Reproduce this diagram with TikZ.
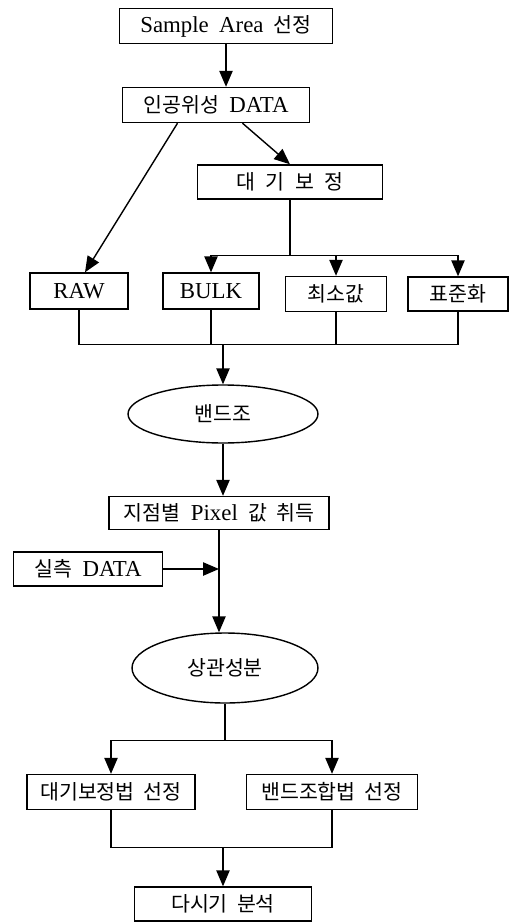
\documentclass[tikz,border=0pt]{standalone}
\usepackage{fontspec}
\setmainfont[WordSpace=1.8]{Liberation Serif}
\newfontfamily\kr[Scale=0.9,WordSpace=2]{Noto Sans CJK KR}
\usetikzlibrary{arrows.meta,shapes.geometric}
\tikzset{
box/.style={draw,line width=0.8pt,minimum height=0.7cm,inner sep=2pt,font=\fontsize{13}{15}\selectfont},
oval/.style={draw,ellipse,line width=0.8pt,inner sep=1pt,font=\fontsize{13}{15}\selectfont},
ln/.style={line width=0.8pt},
arr/.style={line width=0.8pt,-{Triangle[length=9pt,width=7.5pt]}}
}
\begin{document}
\begin{tikzpicture}[x=0.02cm,y=-0.02cm]
\useasboundingbox (0,0) rectangle (514,922);
\node[box,minimum width=4.26cm] (sample) at (226,26) {Sample Area {\kr 선정}};
\node[box,minimum width=3.74cm] (sat) at (216,105) {{\kr 인공위성} DATA};
\node[box,minimum width=3.7cm,minimum height=0.68cm] (atm) at (290,182) {\kr 대\enspace 기\enspace 보\enspace 정};
\node[box,minimum width=1.96cm,minimum height=0.72cm] (raw) at (79,291) {RAW};
\node[box,minimum width=1.92cm,minimum height=0.72cm] (bulk) at (211,291) {BULK};
\node[box,minimum width=2.02cm] (minv) at (336,294) {\kr 최소값};
\node[box,minimum width=2cm,minimum height=0.68cm] (std) at (458,294) {\kr 표준화};
\node[oval,minimum width=3.8cm,minimum height=1.16cm] (band) at (223,414) {\kr 밴드조};
\node[box,minimum width=4.4cm,minimum height=0.66cm] (pix) at (219,513) {{\kr 지점별} Pixel {\kr 값 취득}};
\node[box,minimum width=2.98cm,minimum height=0.68cm] (meas) at (88,569) {{\kr 실측} DATA};
\node[oval,minimum width=3.72cm,minimum height=1.4cm] (corr) at (225,668) {\kr 상관성분};
\node[box,minimum width=3.36cm] (sel1) at (111,792) {\kr 대기보정법 선정};
\node[box,minimum width=3.42cm] (sel2) at (332,792) {\kr 밴드조합법 선정};
\node[box,minimum width=3.54cm,minimum height=0.68cm] (final) at (223,904) {\kr 다시기 분석};
\draw[arr] (sample.south) -- (sample.south |- sat.north);
\draw[arr] ([xshift=0.53cm]sat.south) -- (atm.north);
\draw[arr] ([xshift=-0.77cm]sat.south) -- ([xshift=0.12cm]raw.north);
\draw[ln] (atm.south) -- ++(0,56) coordinate (split1);
\foreach \b in {bulk,minv,std} \draw[arr] (split1) -| (\b.north);
\path (band.north) ++(0,-40) coordinate (merge1);
\foreach \b in {raw,bulk,minv,std} \draw[ln] (\b.south) |- (merge1);
\draw[arr] (merge1) -- (band.north);
\draw[arr] (band.south) -- (band.south |- pix.north);
\draw[arr] (pix.south) -- (pix.south |- corr.north);
\draw[arr] (meas.east) -- (meas.east -| pix.south);
\draw[ln] (corr.south) -- ++(0,37) coordinate (split2);
\foreach \b in {sel1,sel2} \draw[arr] (split2) -| (\b.north);
\path (final.north) ++(0,-39) coordinate (merge2);
\foreach \b in {sel1,sel2} \draw[ln] (\b.south) |- (merge2);
\draw[arr] (merge2) -- (final.north);
\end{tikzpicture}
\end{document}
